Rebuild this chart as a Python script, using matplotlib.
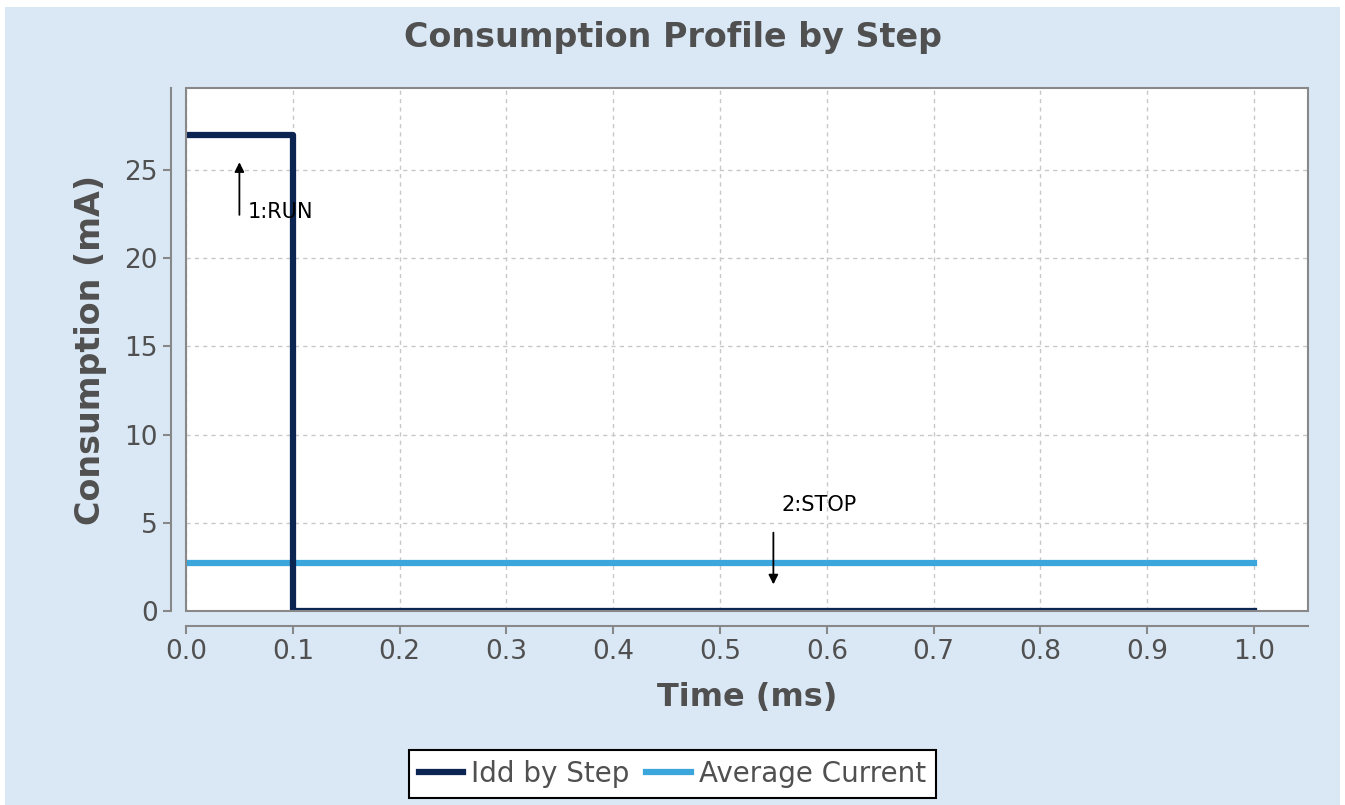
import numpy as np
import matplotlib
matplotlib.use("Agg")
import matplotlib.pyplot as plt
from matplotlib.patches import Rectangle

# step profile
step_times = [0.0, 0.1, 1.0]
step_idd = [27.0, 0.0, 0.0]
avg_current = 2.7
t_end = 1.0

# step labels
step_names = ["1:RUN", "2:STOP"]
step_arrow_x = [0.05, 0.55]

navy = "#0b2452"
sky = "#3aa6dc"
bg = "#dae8f5"
grey_txt = "#505050"

fig = plt.figure(figsize=(13.45, 8.05), dpi=100)
fig.patch.set_facecolor("white")
fig.patches.append(Rectangle((5/1345, 0), 1335/1345, 1 - 7/805,
                             transform=fig.transFigure, facecolor=bg,
                             edgecolor="none", zorder=-10))

ax = fig.add_axes([186/1345, 1 - 611/805, (1308-186)/1345, (611-88)/805])
ax.set_facecolor("white")

ax.step(step_times, step_idd, where="post", color=navy, lw=4.5,
        label="Idd by Step", zorder=3)
ax.plot([0, t_end], [avg_current, avg_current], color=sky, lw=4.5,
        label="Average Current", zorder=2)

ax.set_xlim(0, 1.0506)
ax.set_ylim(0, 29.65)
ax.set_xticks(np.arange(0, 1.01, 0.1))
ax.set_yticks(np.arange(0, 26, 5))
ax.xaxis.set_major_formatter(matplotlib.ticker.FormatStrFormatter("%.1f"))
ax.grid(True, color="#c8c8c8", ls=(0, (3, 3)), lw=1)

for s in ax.spines.values():
    s.set_visible(False)
for side in ["left", "bottom"]:
    ax.spines[side].set_visible(True)
    ax.spines[side].set_position(("outward", 11))
    ax.spines[side].set_color("#888888")
    ax.spines[side].set_linewidth(1.5)
ax.add_patch(Rectangle((0, 0), 1, 1, transform=ax.transAxes, fill=False,
                       edgecolor="#888888", lw=1.5, clip_on=False, zorder=5))
ax.tick_params(colors="#888888", labelcolor=grey_txt, labelsize=19,
               length=6, width=1.5)

ax.set_xlabel("Time (ms)", fontsize=23, fontweight="bold", color=grey_txt,
              labelpad=12)
ax.set_ylabel("Consumption (mA)", fontsize=24, fontweight="bold",
              color=grey_txt, labelpad=12)
fig.suptitle("Consumption Profile by Step", x=0.5, y=1 - 37/805, va="center",
             fontsize=24, fontweight="bold", color=grey_txt)

# step annotations
ax.annotate("", xy=(step_arrow_x[0], 25.6), xytext=(step_arrow_x[0], 22.3),
            arrowprops=dict(arrowstyle="-|>", color="black", lw=1.3,
                            mutation_scale=14))
ax.text(step_arrow_x[0] + 0.008, 22.6, step_names[0], fontsize=15,
        ha="left", va="center", color="black")
ax.annotate("", xy=(step_arrow_x[1], 1.35), xytext=(step_arrow_x[1], 4.6),
            arrowprops=dict(arrowstyle="-|>", color="black", lw=1.3,
                            mutation_scale=14))
ax.text(step_arrow_x[1] + 0.008, 6.0, step_names[1], fontsize=15,
        ha="left", va="center", color="black")

leg = fig.legend(loc="center", bbox_to_anchor=(0.5, 1 - 774/805), ncol=2,
                 fontsize=20, frameon=True, fancybox=False, handlelength=1.6,
                 handletextpad=0.3, columnspacing=0.6, borderpad=0.35,
                 labelcolor=grey_txt, framealpha=1)
leg.get_frame().set_edgecolor("black")
leg.get_frame().set_linewidth(1.5)

fig.savefig("out.png", dpi=100, facecolor=fig.get_facecolor())
